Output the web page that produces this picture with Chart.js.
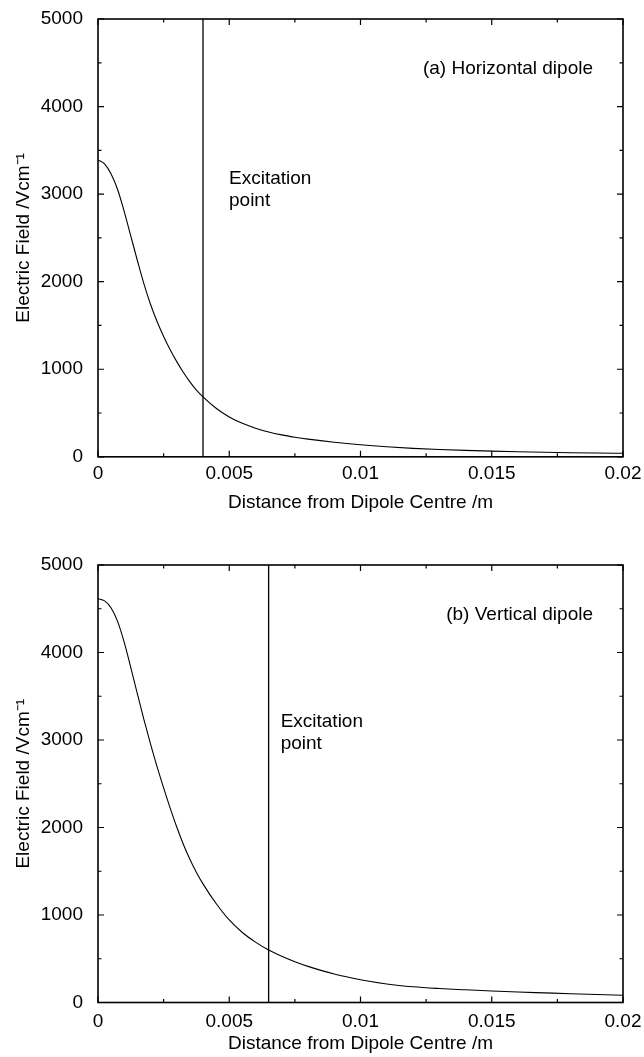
<!DOCTYPE html>
<html><head><meta charset="utf-8">
<script src="https://cdn.jsdelivr.net/npm/chart.js@4/dist/chart.umd.min.js"></script>
<style>
html,body{margin:0;padding:0;background:#fff;}
#wrap{position:relative;width:644px;height:1057px;}
.pane{position:absolute;left:0;width:644px;}
</style></head><body>
<div id="wrap">
<div class="pane" style="top:0;height:530px"><canvas id="ca"></canvas></div>
<div class="pane" style="top:530px;height:527px"><canvas id="cb"></canvas></div>
</div>
<script>
// distance from dipole centre (m)
const distance = [0, 0.00025, 0.0005, 0.00075, 0.001, 0.00125, 0.0015, 0.00175, 0.002, 0.00225, 0.0025, 0.00275, 0.003, 0.00325, 0.0035, 0.00375, 0.004, 0.0045, 0.005, 0.0055, 0.006, 0.0065, 0.007, 0.0075, 0.008, 0.009, 0.01, 0.011, 0.012, 0.013, 0.014, 0.015, 0.016, 0.017, 0.018, 0.019, 0.02];
// (a) horizontal dipole field (V/cm)
const fieldA = [3390, 3345, 3230, 3050, 2800, 2520, 2242, 1975, 1742, 1545, 1375, 1223, 1087, 965, 855, 762, 685, 555, 455, 382, 327, 283, 250, 224, 202, 166, 137, 114, 96, 83, 73, 65, 58, 52, 47, 43, 40];
// (b) vertical dipole field (V/cm)
const fieldB = [4615, 4590, 4509, 4353, 4115, 3827, 3527, 3234, 2956, 2695, 2452, 2221, 2005, 1809, 1637, 1487, 1356, 1131, 943, 800, 690, 600, 528, 466, 413, 325, 260, 212, 180, 160, 145, 132, 120, 110, 100, 91, 83];
const excitationA = 0.004;
const excitationB = 0.0065;
const xTicks = [0, 0.005, 0.01, 0.015, 0.02];
const xTickLabels = ['0', '0.005', '0.01', '0.015', '0.02'];
const yTicks = [0, 1000, 2000, 3000, 4000, 5000];
const yTickLabels = ['0', '1000', '2000', '3000', '4000', '5000'];
const panelTitles = ['(a) Horizontal dipole', '(b) Vertical dipole'];
const noteLines = ['Excitation', 'point'];
const xTitle = 'Distance from Dipole Centre /m';
const yTitle = 'Electric Field /Vcm\u207B\u00B9';

const FONT = 'Liberation Sans, Arial, Helvetica, sans-serif';

const framePlugin = {
  id: 'frame',
  afterDatasetsDraw(chart, args, o) {
    const {ctx, chartArea: a, scales: {x, y}} = chart;
    ctx.save();
    ctx.strokeStyle = '#000';
    ctx.lineWidth = 1.6;
    ctx.strokeRect(a.left, a.top, a.right - a.left, a.bottom - a.top);
    ctx.lineWidth = 1.2;
    ctx.beginPath();
    const xs = [];
    for (let i = 0; i < xTicks.length; i++) {
      xs.push([xTicks[i], 6]);
      if (i < xTicks.length - 1) xs.push([(xTicks[i] + xTicks[i + 1]) / 2, 3.5]);
    }
    xs.forEach(([v, l]) => {
      const px = x.getPixelForValue(v);
      ctx.moveTo(px, a.bottom); ctx.lineTo(px, a.bottom - l);
      ctx.moveTo(px, a.top); ctx.lineTo(px, a.top + l);
    });
    const ys = [];
    for (let i = 0; i < yTicks.length; i++) {
      ys.push([yTicks[i], 6]);
      if (i < yTicks.length - 1) ys.push([(yTicks[i] + yTicks[i + 1]) / 2, 3.5]);
    }
    ys.forEach(([v, l]) => {
      const py = y.getPixelForValue(v);
      ctx.moveTo(a.left, py); ctx.lineTo(a.left + l, py);
      ctx.moveTo(a.right, py); ctx.lineTo(a.right - l, py);
    });
    ctx.stroke();
    // annotations
    ctx.fillStyle = '#000';
    ctx.font = '19px ' + FONT;
    ctx.textBaseline = 'middle';
    ctx.textAlign = 'right';
    ctx.fillText(o.title, a.right - 30, a.top + 50);
    ctx.textAlign = 'left';
    const ex = x.getPixelForValue(o.exc) + o.noteDx;
    ctx.fillText(noteLines[0], ex, a.top + o.noteDy);
    ctx.fillText(noteLines[1], ex, a.top + o.noteDy + 22);
    ctx.restore();
  }
};

function makeChart(id, field, exc, title, padTop, padBottom, xh, tickPad, noteDx, noteDy) {
  const pts = distance.map((d, i) => ({x: d, y: field[i]}));
  return new Chart(document.getElementById(id), {
    type: 'scatter',
    data: {
      datasets: [
        {data: pts, showLine: true, borderColor: '#000', borderWidth: 1.1, pointRadius: 0, cubicInterpolationMode: 'monotone'},
        {data: [{x: exc, y: 0}, {x: exc, y: 5000}], showLine: true, borderColor: '#000', borderWidth: 1.3, pointRadius: 0}
      ]
    },
    options: {
      responsive: true,
      maintainAspectRatio: false,
      animation: false,
      events: [],
      layout: {padding: {top: padTop, right: 21, bottom: padBottom, left: 0}},
      plugins: {legend: {display: false}, tooltip: {enabled: false},
        frame: {title: title, exc: exc, noteDx: noteDx, noteDy: noteDy}},
      scales: {
        x: {
          type: 'linear', min: 0, max: 0.02,
          afterBuildTicks: s => { s.ticks = xTicks.map(v => ({value: v})); },
          afterFit: s => { s.height = xh; },
          grid: {display: false}, border: {display: false},
          ticks: {color: '#000', font: {size: 19, family: FONT}, padding: tickPad, maxRotation: 0, autoSkip: false,
            callback: v => xTickLabels[xTicks.indexOf(v)]},
          title: {display: true, text: xTitle, color: '#000', font: {size: 19, family: FONT}, padding: {top: 0, bottom: 0}}
        },
        y: {
          type: 'linear', min: 0, max: 5000,
          afterBuildTicks: s => { s.ticks = yTicks.map(v => ({value: v})); },
          afterFit: s => { s.width = 98; },
          grid: {display: false}, border: {display: false},
          ticks: {color: '#000', font: {size: 19, family: FONT}, padding: 7,
            callback: v => yTickLabels[yTicks.indexOf(v)]},
          title: {display: true, text: yTitle, color: '#000', font: {size: 19, family: FONT}, padding: {top: 12.6, bottom: 0}}
        }
      }
    },
    plugins: [framePlugin]
  });
}

makeChart('ca', fieldA, excitationA, panelTitles[0], 19, 15.6, 57.6, -2, 26, 160);
makeChart('cb', fieldB, excitationB, panelTitles[1], 35, 1.6, 52.9, 0, 12, 157);
</script>
</body></html>
